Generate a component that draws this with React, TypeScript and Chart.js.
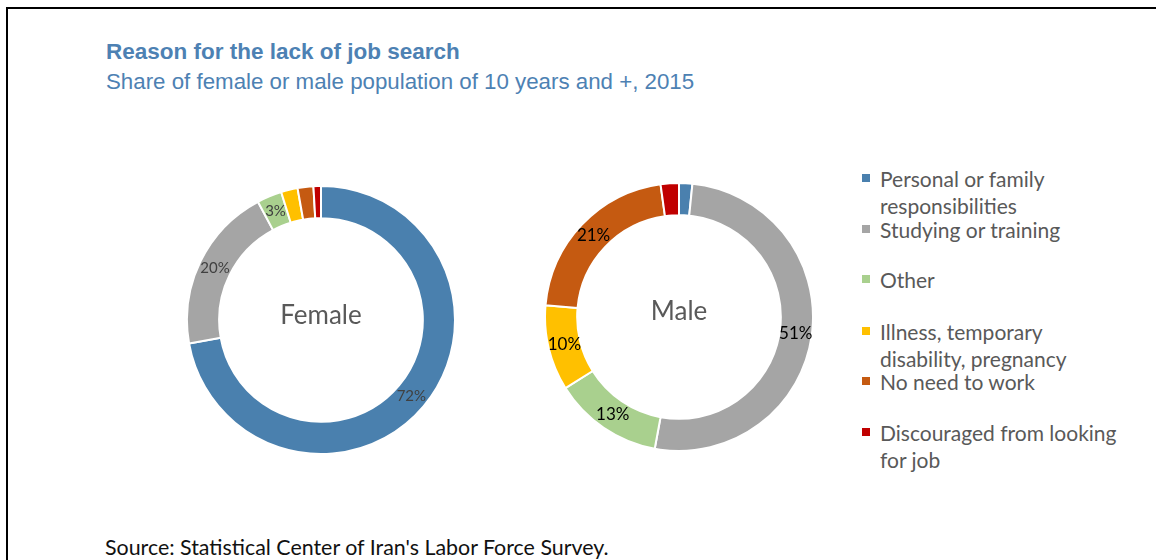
import React, { useEffect, useRef } from "react";
import { Chart, registerables } from "chart.js";

Chart.register(...registerables);

const categories = [
  "Personal or family responsibilities",
  "Studying or training",
  "Other",
  "Illness, temporary disability, pregnancy",
  "No need to work",
  "Discouraged from looking for job",
];
const legendLines = [
  ["Personal or family", "responsibilities"],
  ["Studying or training"],
  ["Other"],
  ["Illness, temporary", "disability, pregnancy"],
  ["No need to work"],
  ["Discouraged from looking", "for job"],
];
const femaleValues = [72.2, 20.0, 3.0, 2.0, 1.9, 0.9];
const maleValues = [1.6, 51.3, 13.2, 10.3, 21.4, 2.2];
const colors = ["#4a80ae", "#a5a5a5", "#a9d08e", "#ffc000", "#c55a11", "#c00000"];

const FONT = "Lato, 'Open Sans', sans-serif";

function Donut(props: { values: number[]; center: string; labelColor: string; labelSize: number; left: number; top: number; textDy: number }) {
  const ref = useRef<HTMLCanvasElement | null>(null);
  useEffect(() => {
    if (!ref.current) return;
    const plugin = {
      id: "donutLabels",
      afterDatasetsDraw(chart: any) {
        const ctx = chart.ctx;
        const meta = chart.getDatasetMeta(0);
        const data = chart.data.datasets[0].data as number[];
        ctx.save();
        ctx.textAlign = "center";
        ctx.textBaseline = "middle";
        ctx.font = `${props.labelSize}px ${FONT}`;
        ctx.fillStyle = props.labelColor;
        meta.data.forEach((arc: any, i: number) => {
          const v = data[i];
          if (v < 2.5) return;
          const p = arc.getProps(["x", "y", "startAngle", "endAngle", "innerRadius", "outerRadius"], true);
          const a = (p.startAngle + p.endAngle) / 2;
          const r = (p.innerRadius + p.outerRadius) / 2;
          ctx.fillText(Math.round(v) + "%", p.x + r * Math.cos(a), p.y + r * Math.sin(a));
        });
        const ca = chart.chartArea;
        ctx.font = `26px ${FONT}`;
        ctx.fillStyle = "#595959";
        ctx.fillText(props.center, (ca.left + ca.right) / 2, (ca.top + ca.bottom) / 2 + props.textDy);
        ctx.restore();
      },
    };
    const chart = new Chart(ref.current, {
      type: "doughnut",
      data: {
        labels: categories,
        datasets: [
          {
            data: props.values,
            backgroundColor: colors,
            borderColor: "#ffffff",
            borderWidth: 2,
            hoverOffset: 0,
            offset: 0,
          },
        ],
      },
      options: {
        responsive: false,
        animation: false,
        cutout: "76%",
        plugins: { legend: { display: false }, tooltip: { enabled: false } },
      },
      plugins: [plugin],
    } as any);
    return () => chart.destroy();
  }, []);
  return (
    <canvas
      ref={ref}
      width={270}
      height={270}
      style={{ position: "absolute", left: props.left, top: props.top, width: 270, height: 270 }}
    />
  );
}

export default function App() {
  const legendTops = [165, 216, 266, 318, 368, 419];
  return (
    <div style={{ position: "fixed", left: 0, top: 0, width: 1156, height: 560, overflow: "hidden", background: "#fff" }}>
      <div style={{ position: "absolute", left: 6, top: 7, width: 1300, height: 700, border: "2px solid #000" }} />
      <div style={{ position: "absolute", left: 106, top: 39, font: "bold 22.5px 'Liberation Sans', Arial, sans-serif", color: "#4d81b3", whiteSpace: "nowrap" }}>
        Reason for the lack of job search
      </div>
      <div style={{ position: "absolute", left: 106, top: 69, font: "22.3px 'Liberation Sans', Arial, sans-serif", color: "#4d81b3", whiteSpace: "nowrap" }}>
        Share of female or male population of 10 years and +, 2015
      </div>
      <Donut values={femaleValues} center="Female" labelColor="#404040" labelSize={15} left={321 - 135} top={320 - 135} textDy={-4} />
      <Donut values={maleValues} center="Male" labelColor="#000000" labelSize={17} left={679 - 135} top={317 - 135} textDy={-5} />
      {legendLines.map((lines, i) => (
        <div key={i} style={{ position: "absolute", left: 862, top: legendTops[i] }}>
          <div style={{ position: "absolute", left: 0, top: 9, width: 8, height: 8, background: colors[i] }} />
          <div style={{ position: "absolute", left: 18, top: 0, font: `21px ${FONT}`, lineHeight: "27px", color: "#595959", whiteSpace: "nowrap" }}>
            {lines.map((l, j) => (
              <div key={j}>{l}</div>
            ))}
          </div>
        </div>
      ))}
      <div style={{ position: "absolute", left: 105, top: 534, font: `21.4px ${FONT}`, color: "#111", whiteSpace: "nowrap" }}>
        Source: Statistical Center of Iran's Labor Force Survey.
      </div>
    </div>
  );
}
